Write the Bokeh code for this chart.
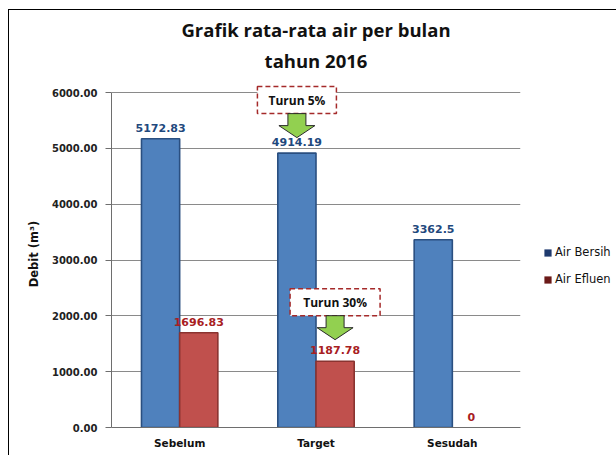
from bokeh.plotting import figure
from bokeh.models import Range1d, FixedTicker, NumeralTickFormatter, Title, Legend, LegendItem
from bokeh.core.properties import value
from bokeh.embed import file_html
from bokeh.resources import INLINE

# ---- data ----
categories = ["Sebelum", "Target", "Sesudah"]
air_bersih = [5172.83, 4914.19, 3362.5]
air_efluen = [1696.83, 1187.78, 0]
bersih_labels = ["5172.83", "4914.19", "3362.5"]
efluen_labels = ["1696.83", "1187.78", "0"]
y_ticks = [0, 1000, 2000, 3000, 4000, 5000, 6000]
series_names = ["Air Bersih", "Air Efluen"]
title_lines = ["Grafik rata-rata air per bulan", "tahun 2016"]
y_label = "Debit (m³)"
notes = ["Turun 5%", "Turun 30%"]
note_category = ["Target", "Target"]
note_series = ["bersih", "efluen"]

# ---- geometry / style ----
FRAME_W, FRAME_H = 409, 347
PX_Y = 6000 / 335.0          # data units per pixel (y)
PX_X = 3 / float(FRAME_W)    # data units per pixel (x)
Y_END = FRAME_H * PX_Y
DODGE, BAR_W = 0.14, 0.28

p = figure(frame_width=FRAME_W, frame_height=FRAME_H, output_backend="svg", toolbar_location=None,
           x_range=Range1d(0, len(categories)), y_range=Range1d(0, Y_END),
           min_border_left=102, min_border_right=96, min_border_top=70, min_border_bottom=28,
           tools="")
p.outline_line_color = None
p.background_fill_color = "white"
p.border_fill_color = "white"
p.styles = {"margin-left": "8px", "margin-top": "9px",
            "border-left": "1px solid #000", "border-top": "1px solid #000"}

xc = [i + 0.5 for i in range(len(categories))]
xb = [x - DODGE for x in xc]
xe = [x + DODGE for x in xc]

BLUE, BLUE_EDGE = "#4F81BD", "#2A4F80"
RED, RED_EDGE = "#C0504D", "#8A3330"

edge_b = [1.0 if v > 0 else 0.0 for v in air_bersih]
edge_e = [1.0 if v > 0 else 0.0 for v in air_efluen]
p.vbar(x=xb, top=air_bersih, width=BAR_W, bottom=0, fill_color=BLUE, line_color=BLUE_EDGE,
       line_width=1.6, line_alpha=edge_b)
p.vbar(x=xe, top=air_efluen, width=BAR_W, bottom=0, fill_color=RED, line_color=RED_EDGE,
       line_width=1.6, line_alpha=edge_e)

lab_font = value("DejaVu Sans")
p.text(x=xb, y=air_bersih, text=bersih_labels, text_align="center", text_baseline="bottom",
       y_offset=-7, text_font=lab_font, text_font_style="bold", text_font_size="11px", text_color="#1F497D")
p.text(x=xe, y=air_efluen, text=efluen_labels, text_align="center", text_baseline="bottom",
       y_offset=-7, text_font=lab_font, text_font_style="bold", text_font_size="11px", text_color="#A8201F")

# ---- notes (box + arrow) ----
box_lift_px = [53, 59]
box_w_px = [79, 90]
box_h_px = 27
arrow_len_px = 24
for k, note in enumerate(notes):
    ci = categories.index(note_category[k])
    if note_series[k] == "bersih":
        bx, top = xb[ci], air_bersih[ci]
    else:
        bx, top = xe[ci], air_efluen[ci]
    cy = top + box_lift_px[k] * PX_Y
    p.rect(x=[bx], y=[cy], width=[box_w_px[k]], height=[box_h_px], width_units="screen", height_units="screen",
           fill_color="white", line_color="#A52A2A", line_width=1.5, line_dash="5 3")
    p.text(x=[bx], y=[cy], text=[note], text_align="center", text_baseline="middle",
           text_font=value("Open Sans"), text_font_style="bold", text_font_size="12px", text_color="#111111")
    a_top = cy - (box_h_px / 2.0) * PX_Y
    a_tip = a_top - arrow_len_px * PX_Y
    a_head = a_tip + 12 * PX_Y
    sh, hh = 9 * PX_X, 18 * PX_X
    ax = [bx - sh, bx + sh, bx + sh, bx + hh, bx, bx - hh, bx - sh]
    ay = [a_top, a_top, a_head, a_head, a_tip, a_head, a_head]
    p.patch(x=ax, y=ay, fill_color="#92D050", line_color="#2A2A2A", line_width=1)

# ---- axes ----
yax = p.yaxis[0]
yax.ticker = FixedTicker(ticks=y_ticks)
yax.formatter = NumeralTickFormatter(format="0.00")
yax.bounds = (0, 6000)
yax.axis_line_color = "#6E6E6E"
yax.major_tick_line_color = "#6E6E6E"
yax.major_tick_out = 6
yax.major_tick_in = 0
yax.minor_tick_line_color = None
yax.major_label_standoff = 8
yax.major_label_text_font = "DejaVu Sans"
yax.major_label_text_font_style = "bold"
yax.major_label_text_font_size = "10px"
yax.major_label_text_color = "#222222"
yax.axis_label = y_label
yax.axis_label_text_font = "DejaVu Sans"
yax.axis_label_text_font_style = "bold"
yax.axis_label_text_font_size = "11.5px"
yax.axis_label_text_color = "#111111"
yax.axis_label_standoff = 8

xax = p.xaxis[0]
xax.ticker = FixedTicker(ticks=xc)
xax.major_label_overrides = {x: c for x, c in zip(xc, categories)}
xax.axis_line_color = "#6E6E6E"
xax.major_tick_line_color = None
xax.minor_tick_line_color = None
xax.major_tick_out = 0
xax.major_label_standoff = 9
xax.major_label_text_font = "DejaVu Sans"
xax.major_label_text_font_style = "bold"
xax.major_label_text_font_size = "10.5px"
xax.major_label_text_color = "#111111"

p.xgrid.grid_line_color = None
p.ygrid.ticker = FixedTicker(ticks=y_ticks)
p.ygrid.grid_line_color = "#8A8A8A"
p.ygrid.grid_line_width = 1

# ---- title (second line first: nearest the plot) ----
p.add_layout(Title(text=title_lines[1], align="center", text_font="Open Sans", text_font_style="bold",
                   text_font_size="18.5px", text_color="#111111", standoff=16), "above")
p.add_layout(Title(text=title_lines[0], align="center", text_font="Open Sans", text_font_style="bold",
                   text_font_size="18.5px", text_color="#111111", standoff=-9), "above")

# ---- legend (proxy swatches, zero-height) ----
r1 = p.vbar(x=xb[:1], top=[0], bottom=[0], width=BAR_W, fill_color="#1F3A6E", line_color=None)
r2 = p.vbar(x=xe[:1], top=[0], bottom=[0], width=BAR_W, fill_color="#6B1A18", line_color=None)
legend = Legend(items=[LegendItem(label=series_names[0], renderers=[r1]),
                       LegendItem(label=series_names[1], renderers=[r2])],
                location=(23, 141), orientation="vertical",
                glyph_width=9, glyph_height=9, label_height=12, spacing=13, label_standoff=3,
                padding=0, margin=0, border_line_color=None, background_fill_alpha=0,
                label_text_font="DejaVu Sans", label_text_font_size="11.5px", label_text_color="#111111")
p.add_layout(legend, "right")

open("out.html", "w").write(file_html(p, INLINE))
